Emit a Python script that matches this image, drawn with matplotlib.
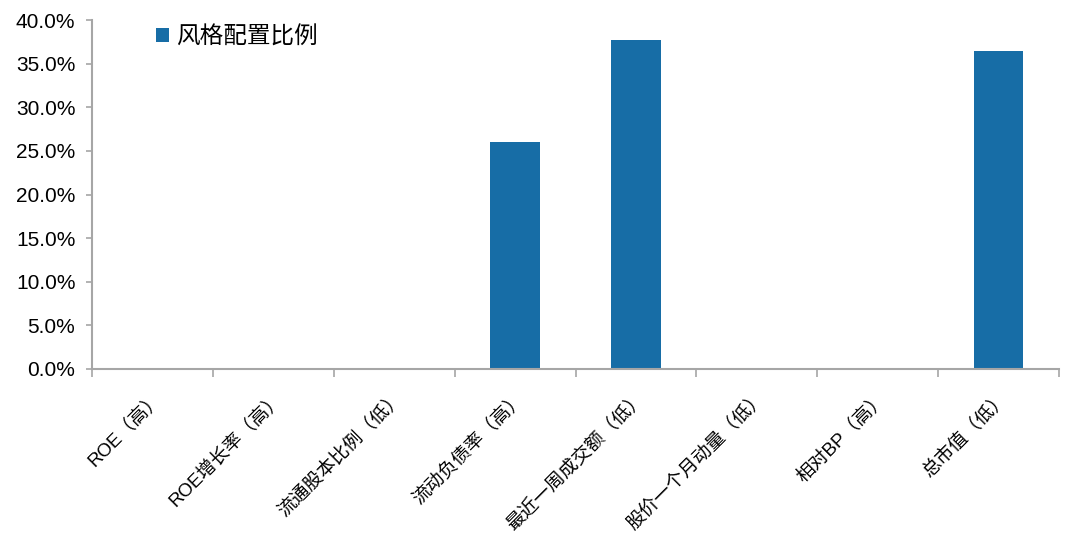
import numpy as np
import matplotlib
matplotlib.use("Agg")
import matplotlib.pyplot as plt
from matplotlib.ticker import PercentFormatter

plt.rcParams['font.family'] = ['Liberation Sans', 'Noto Sans CJK SC', 'DejaVu Sans']

# data
categories = ['ROE（高）', 'ROE增长率（高）', '流通股本比例（低）', '流动负债率（高）',
              '最近一周成交额（低）', '股价一个月动量（低）', '相对BP（高）', '总市值（低）']
weights = [0.0, 0.0, 0.0, 0.260, 0.377, 0.0, 0.0, 0.364]
series_name = '风格配置比例'

bar_color = '#176DA6'
axis_color = '#A6A6A6'

fig = plt.figure(figsize=(10.74, 5.34), dpi=100)
ax = fig.add_axes([0.0857, 0.309, 0.9003, 0.6535])

x = np.arange(len(categories))
ax.bar(x, weights, width=0.41, color=bar_color, label=series_name)

ax.set_xlim(-0.5, len(categories) - 0.5)
ax.set_ylim(0, 0.40)
ax.set_yticks(np.arange(0, 0.401, 0.05))
ax.yaxis.set_major_formatter(PercentFormatter(1.0, decimals=1))
ax.tick_params(axis='y', labelsize=15, length=4, color=axis_color, width=1.2, pad=8)

# category boundaries as x ticks
ax.set_xticks(np.arange(-0.5, len(categories) + 0.5, 1.0))
ax.set_xticklabels([])
ax.tick_params(axis='x', which='major', length=6, color=axis_color, width=1.2)
ax.set_xticks(x, minor=True)
ax.set_xticklabels(categories, minor=True, rotation=45, ha='right',
                   rotation_mode='anchor', fontsize=13.5)
ax.tick_params(axis='x', which='minor', length=0, pad=14)

for side in ['top', 'right']:
    ax.spines[side].set_visible(False)
for side in ['left', 'bottom']:
    ax.spines[side].set_color(axis_color)
    ax.spines[side].set_linewidth(1.5)

ax.legend(loc='upper left', bbox_to_anchor=(0.044, 1.043), frameon=False,
          fontsize=17, handlelength=0.55, handleheight=0.55, handletextpad=0.3)

fig.savefig('out.png', dpi=100)
